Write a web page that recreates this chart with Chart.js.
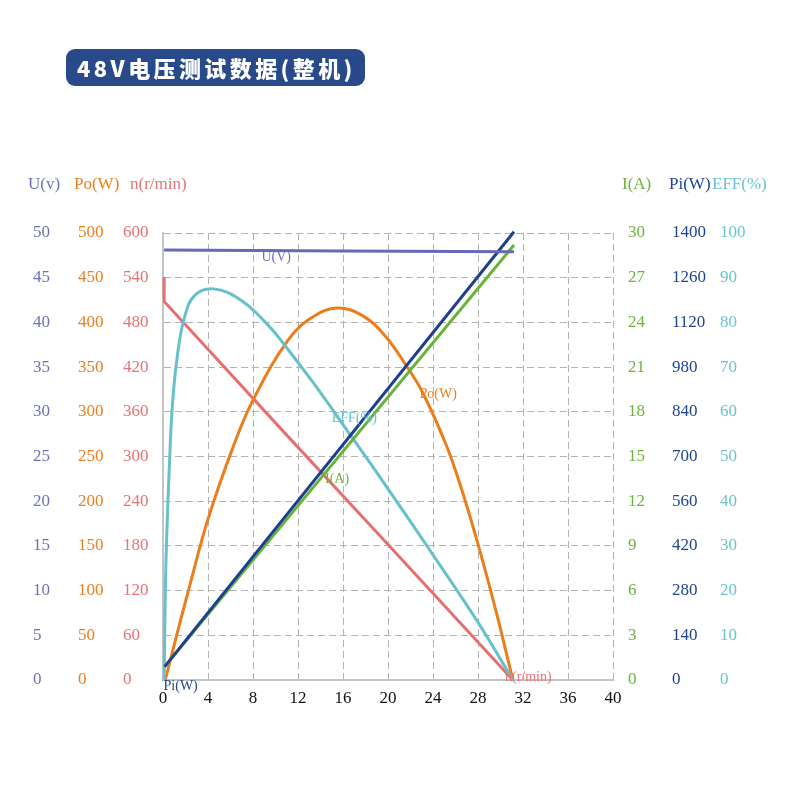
<!DOCTYPE html>
<html>
<head>
<meta charset="utf-8">
<script src="https://cdn.jsdelivr.net/npm/chart.js@4.4.1/dist/chart.umd.min.js"></script>
<style>
  body { margin: 0; background: #fff; }
  .wrap { position: relative; width: 800px; height: 800px; }
  .title {
    position: absolute; left: 66px; top: 49px; width: 299px; height: 37px;
    background: #294a8a; border-radius: 9px;
  }
  .title span {
    position: absolute; left: 11px; top: 0; line-height: 37px; white-space: nowrap;
    color: #fff; font-family: "Noto Sans CJK SC", sans-serif; font-weight: 900;
    font-size: 22px; letter-spacing: 3.4px;
  }
  canvas { position: absolute; left: 0; top: 0; }
</style>
</head>
<body>
<div class="wrap">
  <canvas id="chart" width="800" height="800"></canvas>
  <div class="title"><span>48V电压测试数据(整机)</span></div>
</div>
<script>
// current I(A) on the x axis
const xMin = 0, xMax = 40, xStep = 4;

// U(V)
const uX = [0.1, 16, 31.2];
const uY = [48.1, 48.0, 47.9];

// Po(W)
const poX = [0.2, 1.3, 2.3, 4.0, 6.3, 8.0, 11.1, 13.3, 15.5, 17.8, 19.8, 21.6, 23.1, 25.2, 26.5, 28.0, 29.6, 31.1];
const poY = [0, 54, 102, 180, 263, 313, 380, 406, 416, 407, 384, 352, 321, 262, 215, 152, 77, 0];

// n(r/min)
const nX = [0.1, 0.1, 11.1, 19.2, 31.1];
const nY = [541, 508, 327, 195, 0];

// I(A)
const iX = [0.15, 31.2];
const iY = [0.9, 29.2];

// Pi(W)
const piX = [0.15, 31.2];
const piY = [42, 1404];

// EFF(%)
const effX = [0.1, 0.25, 0.55, 0.85, 1.3, 1.9, 2.8, 4.5, 6.9, 9.3, 11.1, 13.5, 16.6, 19.8, 24.0, 28.1, 31.1];
const effY = [0, 25, 47, 62, 73, 81, 86, 87.5, 85, 79.5, 74, 66, 55, 43.5, 28, 12.5, 0];

// y axes
const axisIds = ['yU', 'yPo', 'yN', 'yI', 'yPi', 'yEff'];
const axisTitles = ['U(v)', 'Po(W)', 'n(r/min)', 'I(A)', 'Pi(W)', 'EFF(%)'];
const axisMax = [50, 500, 600, 30, 1400, 100];
const axisSide = ['left', 'left', 'left', 'right', 'right', 'right'];
const axisColors = ['#6d72b8', '#ea7f1f', '#e77373', '#6cb33e', '#1f438f', '#6cc3cc'];
const axisWidths = [45, 45, 40, 59, 48, 40];
const axisWeights = [3, 2, 1, 1, 2, 3];
const axisPad = [0, 0, 0, 15, 0, 0];
const titleDx = [-5, -4, 7, -6, -3, -8];

const lineColors = {
  u: '#6669b5', po: '#eb7d1a', n: '#e57070', i: '#6ab33a', pi: '#1c3f8e', eff: '#67c1cc'
};

const pts = (xs, ys) => xs.map((x, k) => ({x: x, y: ys[k]}));

const lineLabels = [
  {text: 'U(V)', axis: 'yU', x: 8.75, y: 47.3, color: '#6d72b8'},
  {text: 'Po(W)', axis: 'yPo', x: 22.8, y: 319, color: '#ea7f1f'},
  {text: 'EFF(%)', axis: 'yEff', x: 15.0, y: 58.6, color: '#6cc3cc'},
  {text: 'I(A)', axis: 'yI', x: 14.4, y: 13.5, color: '#6cb33e'},
  {text: 'Pi(W)', axis: 'yPi', x: 0.05, y: -19, color: '#1f438f'},
  {text: 'n(r/min)', axis: 'yN', x: 30.4, y: 4, color: '#e77373'}
];

const scales = {
  x: {
    type: 'linear', min: xMin, max: xMax,
    ticks: {stepSize: xStep, color: '#111', padding: 8, font: {family: 'Liberation Serif', size: 17}},
    grid: {display: true, color: '#b3b3b3', lineWidth: 1, drawTicks: false},
    border: {display: true, color: '#c4c4c4', width: 2, dash: [7, 4]},
    afterFit(s) { s.height = 30; }
  }
};
axisIds.forEach((id, k) => {
  scales[id] = {
    type: 'linear', position: axisSide[k], min: 0, max: axisMax[k], weight: axisWeights[k],
    ticks: {
      stepSize: axisMax[k] / 10, color: axisColors[k], padding: axisPad[k],
      crossAlign: axisSide[k] === 'left' ? 'far' : 'near',
      font: {family: 'Liberation Serif', size: 17},
      callback: v => String(v)
    },
    grid: {display: id === 'yN', color: '#b3b3b3', lineWidth: 1, drawTicks: false},
    border: {display: id === 'yN', color: '#c4c4c4', width: 2, dash: [7, 4]},
    afterFit(s) { s.width = axisWidths[k]; }
  };
});

const textPlugin = {
  id: 'texts',
  afterDraw(chart) {
    const ctx = chart.ctx;
    ctx.save();
    ctx.textBaseline = 'middle';
    ctx.textAlign = 'left';
    ctx.font = '17px "Liberation Serif"';
    axisIds.forEach((id, k) => {
      const s = chart.scales[id];
      const lx = axisSide[k] === 'left' ? s.left : s.left + axisPad[k];
      ctx.fillStyle = axisColors[k];
      ctx.fillText(axisTitles[k], lx + titleDx[k], chart.chartArea.top - 48);
    });
    ctx.font = '14px "Liberation Serif"';
    lineLabels.forEach(l => {
      ctx.fillStyle = l.color;
      ctx.fillText(l.text, chart.scales.x.getPixelForValue(l.x), chart.scales[l.axis].getPixelForValue(l.y));
    });
    ctx.restore();
  }
};

const line = (label, data, color, axis, smooth) => ({
  label: label, data: data, borderColor: color, borderWidth: 3, pointRadius: 0,
  yAxisID: axis, fill: false, clip: false,
  tension: smooth ? 0.4 : 0
});

new Chart(document.getElementById('chart'), {
  type: 'line',
  data: {
    datasets: [
      line('U(V)', pts(uX, uY), lineColors.u, 'yU', false),
      line('Pi(W)', pts(piX, piY), lineColors.pi, 'yPi', false),
      line('I(A)', pts(iX, iY), lineColors.i, 'yI', false),
      line('EFF(%)', pts(effX, effY), lineColors.eff, 'yEff', true),
      line('Po(W)', pts(poX, poY), lineColors.po, 'yPo', true),
      line('n(r/min)', pts(nX, nY), lineColors.n, 'yN', false)
    ]
  },
  options: {
    responsive: false,
    animation: false,
    devicePixelRatio: 1,
    layout: {padding: {left: 33, right: 40, top: 233, bottom: 90}},
    plugins: {legend: {display: false}, tooltip: {enabled: false}},
    scales: scales
  },
  plugins: [textPlugin]
});
</script>
</body>
</html>
